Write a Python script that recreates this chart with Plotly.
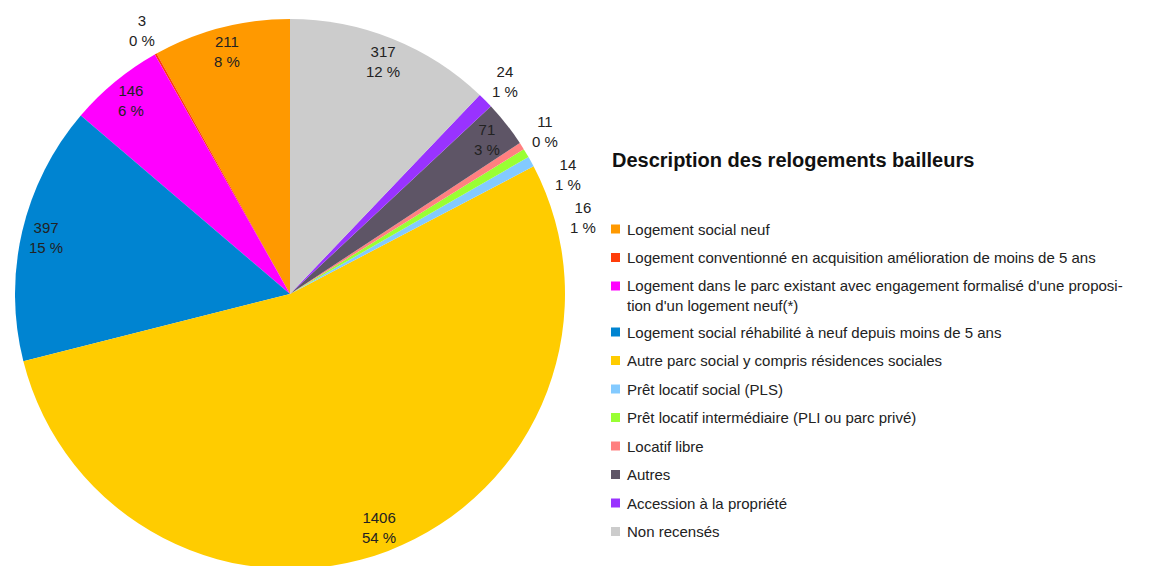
import math
import plotly.graph_objects as go

labels = [
    "Logement social neuf",
    "Logement conventionné en acquisition amélioration de moins de 5 ans",
    "Logement dans le parc existant avec engagement formalisé d'une proposi-<br>tion d'un logement neuf(*)",
    "Logement social réhabilité à neuf depuis moins de 5 ans",
    "Autre parc social y compris résidences sociales",
    "Prêt locatif social (PLS)",
    "Prêt locatif intermédiaire (PLI ou parc privé)",
    "Locatif libre",
    "Autres",
    "Accession à la propriété",
    "Non recensés",
]
values = [211, 3, 146, 397, 1406, 16, 14, 11, 71, 24, 317]
colors = ["#ff9900", "#ff3d0a", "#ff00ff", "#0084d1", "#ffcc00", "#83caff",
          "#99ff33", "#ff8080", "#5e5566", "#9933ff", "#cccccc"]
title = "Description des relogements bailleurs"

# the page body has an 8px margin, so work in page pixels and convert
OFF = 8
W, H = 1141, 566
TOP, BOT = 11, 5
PH = H - TOP - BOT                 # plot-area height
R = PH / 2                         # pie radius
CX, CY = 290, OFF + TOP + R        # pie centre in page pixels
PLOT_BOTTOM = OFF + H - BOT


def to_paper(px, py):
    return (px - OFF) / W, (PLOT_BOTTOM - py) / PH


total = sum(values)

# plotly puts the END of the first slice at `rotation` when counterclockwise,
# so shift by the first slice so that it starts at 12 o'clock
rotation = -values[0] / total * 360

fig = go.Figure(go.Pie(
    labels=labels, values=values,
    textinfo="none", sort=False,
    direction="counterclockwise", rotation=rotation,
    marker=dict(colors=colors, line=dict(width=0)),
    domain=dict(x=[(CX - OFF - R) / W, (CX - OFF + R) / W], y=[0, 1]),
    showlegend=False,
))

# ---- slice labels: value + rounded percent, near the rim or just outside ----
annotations = []
outside = []
cum = 0
for v in values:
    mid = (cum + v / 2) / total * 360        # counterclockwise from 12 o'clock
    cum += v
    phi = math.radians(360 - mid)            # clockwise angle from 12 o'clock
    txt = f"{v}<br>{round(100 * v / total)} %"
    if v / total > 0.02:
        d = R * 0.91
        annotations.append((CX + d * math.sin(phi), CY - d * math.cos(phi), txt))
    else:
        outside.append([phi, txt])

# outside labels: keep them apart vertically, pushing down on each side
d_out = R * 1.10
gap = 43
for side in (1, -1):
    pts = []
    for phi, txt in outside:
        x = CX + d_out * math.sin(phi)
        if (x >= CX) == (side == 1):
            pts.append([CY - d_out * math.cos(phi), txt])
    pts.sort()
    last = None
    for p in pts:
        if last is not None and p[0] < last + gap:
            p[0] = last + gap
        last = p[0]
        c = (CY - p[0]) / d_out
        s = math.sqrt(max(0.0, 1 - c * c))
        annotations.append((CX + side * d_out * s, p[0], p[1]))

ann = []
for x, y, txt in annotations:
    xp, yp = to_paper(x, y)
    ann.append(dict(x=xp, y=yp, xref="paper", yref="paper", text=txt,
                    showarrow=False, xanchor="center", yanchor="middle",
                    font=dict(family="Liberation Sans", size=15, color="#222222")))

# ---- legend (drawn by hand to get the original spacing) ----
LX = 611
LINE = 19.5
xp, yp = to_paper(LX - 1, 160)
ann.append(dict(x=xp, y=yp, xref="paper", yref="paper",
                text=f"<b>{title}</b>", showarrow=False,
                xanchor="left", yanchor="middle",
                font=dict(family="Liberation Sans", size=20, color="#111111")))

shapes = []
y = 229
for lab, col in zip(labels, colors):
    nlines = lab.count("<br>") + 1
    x0, y0 = to_paper(LX, y + 4.5)
    x1, y1 = to_paper(LX + 9, y - 4.5)
    shapes.append(dict(type="rect", xref="paper", yref="paper",
                       x0=x0, y0=y0, x1=x1, y1=y1,
                       fillcolor=col, line=dict(width=0)))
    tx, ty = to_paper(LX + 14, y + (nlines - 1) * LINE / 2)
    ann.append(dict(x=tx, y=ty, xref="paper", yref="paper", text=lab,
                    showarrow=False, xanchor="left", yanchor="middle", align="left",
                    font=dict(family="Liberation Sans", size=15, color="#222222")))
    y += 28.5 + (nlines - 1) * 17.5

fig.update_layout(
    width=W, height=H,
    margin=dict(l=0, r=0, t=TOP, b=BOT),
    paper_bgcolor="white", plot_bgcolor="white",
    annotations=ann, shapes=shapes,
)

fig.write_html("out.html")
